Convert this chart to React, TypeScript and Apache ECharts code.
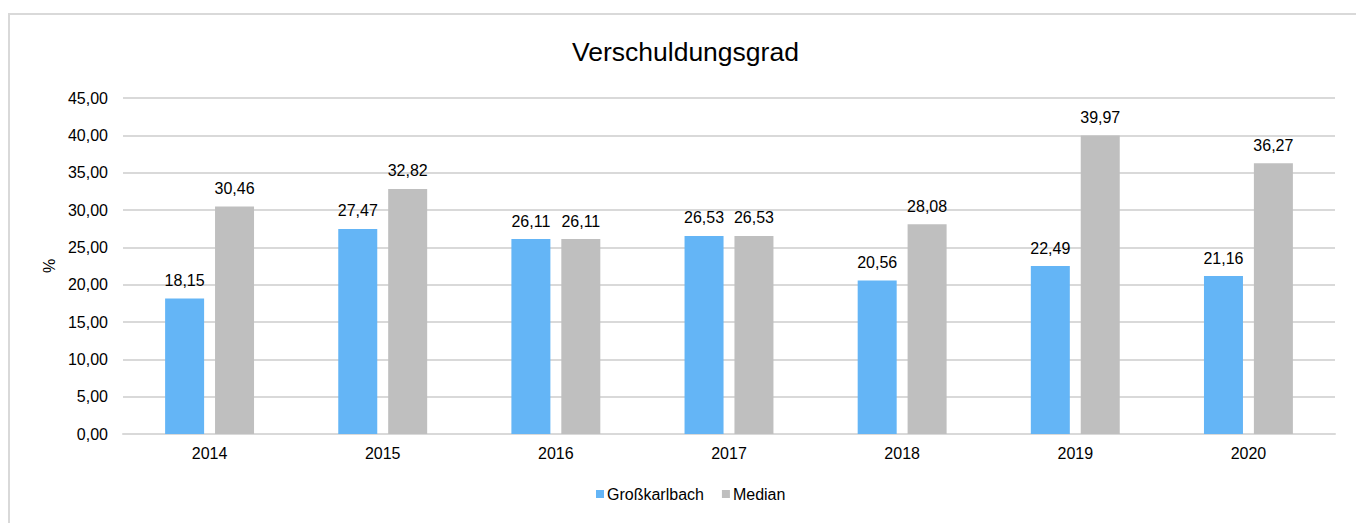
import React, { useEffect, useRef } from "react";
import * as echarts from "echarts";

const categories = ["2014", "2015", "2016", "2017", "2018", "2019", "2020"];
const grosskarlbach = [18.15, 27.47, 26.11, 26.53, 20.56, 22.49, 21.16];
const median = [30.46, 32.82, 26.11, 26.53, 28.08, 39.97, 36.27];
const seriesNames = ["Großkarlbach", "Median"];

const fmt = (v: number) => v.toFixed(2).replace(".", ",");

export default function App() {
  const ref = useRef<HTMLDivElement>(null);
  useEffect(() => {
    if (!ref.current) return;
    const chart = echarts.init(ref.current, null, { renderer: "svg" });
    const font = "Liberation Sans, Arial, sans-serif";
    const fs = 16;
    const label = {
      show: true,
      position: "top",
      distance: 10,
      color: "#000",
      fontSize: fs,
      fontFamily: font,
      formatter: (p: any) => fmt(p.value),
    };
    chart.setOption({
      animation: false,
      textStyle: { fontFamily: font },
      title: {
        text: "Verschuldungsgrad",
        left: 567,
        top: 33,
        textStyle: { fontFamily: font, fontSize: 26.5, fontWeight: "normal", color: "#000" },
      },
      legend: {
        bottom: 16,
        left: 591,
        itemWidth: 8,
        itemHeight: 8,
        itemGap: 18,
        icon: "rect",
        textStyle: { fontFamily: font, fontSize: fs, color: "#000", padding: [0, 0, 0, -2] },
        data: seriesNames,
      },
      grid: { left: 123, right: 21, top: 98, bottom: 89, containLabel: false },
      xAxis: {
        type: "category",
        data: categories,
        axisLine: { lineStyle: { color: "#d9d9d9", width: 2 } },
        axisTick: { show: false },
        axisLabel: { color: "#000", fontSize: fs, fontFamily: font, margin: 11 },
      },
      yAxis: {
        type: "value",
        min: 0,
        max: 45,
        interval: 5,
        name: "%",
        nameLocation: "middle",
        nameRotate: 90,
        nameGap: 66,
        nameTextStyle: { color: "#000", fontSize: fs, fontFamily: font },
        axisLine: { show: false },
        axisTick: { show: false },
        splitLine: { lineStyle: { color: "#d9d9d9", width: 2 } },
        axisLabel: { color: "#000", fontSize: fs, fontFamily: font, margin: 15, formatter: (v: number) => fmt(v) },
      },
      series: [
        {
          name: seriesNames[0],
          type: "bar",
          data: grosskarlbach,
          barWidth: 39,
          barGap: "28%",
          itemStyle: { color: "#64b5f6" },
          label,
        },
        {
          name: seriesNames[1],
          type: "bar",
          data: median,
          barWidth: 39,
          barGap: "28%",
          itemStyle: { color: "#bfbfbf" },
          label,
        },
      ],
    });
    return () => chart.dispose();
  }, []);
  return (
    <div style={{ position: "fixed", left: 0, top: 0, width: 1356, height: 523, background: "#fff", overflow: "hidden" }}>
      <div
        style={{
          position: "absolute",
          left: 8,
          top: 13,
          width: 1400,
          height: 600,
          borderTop: "2px solid #d9d9d9",
          borderLeft: "2px solid #d9d9d9",
          boxSizing: "border-box",
        }}
      />
      <div ref={ref} style={{ position: "absolute", left: 0, top: 0, width: 1356, height: 523 }} />
    </div>
  );
}
